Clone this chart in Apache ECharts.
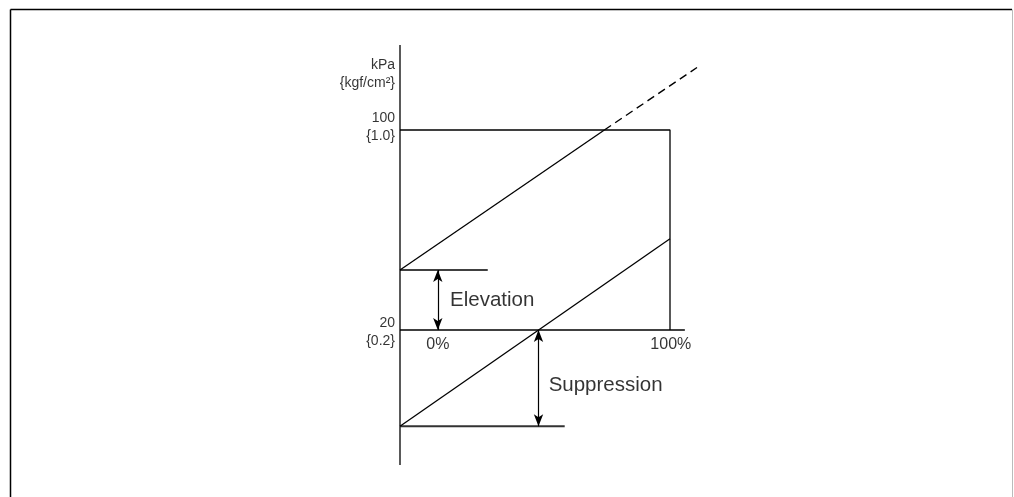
<!DOCTYPE html>
<html>
<head>
<meta charset="utf-8">
<script src="https://cdn.jsdelivr.net/npm/echarts@6/dist/echarts.min.js"></script>
<style>
  html, body { margin: 0; padding: 0; background: #fff; }
  #chart { width: 1014px; height: 497px; }
</style>
</head>
<body>
<div id="chart"></div>
<script>
// axis ranges (x: percent of span, y: kPa)
const xRange = [0, 120];
const yRange = [-34, 134];

// frame lines of the diagram
const axisLine = [[0, -34], [0, 134]];
const line100 = [[0, 100], [100, 100], [100, 20]];
const line20 = [[0, 20], [105.5, 20]];
const elevBase = [[0, 44], [32.5, 44]];
const suppBase = [[0, -18.5], [61, -18.5]];

// calibration lines
const elevSolid = [[0, 44], [75.7, 100]];
const elevDashed = [[75.7, 100], [110, 125]];
const suppLine = [[0, -18.5], [100, 56.5]];

// arrows
const elevArrow = [[14, 44], [14, 20]];
const suppArrow = [[51.3, 20], [51.3, -18.5]];

// tick labels
const yTickLabels = [
  { value: [0, 122.2], text: 'kPa\n{kgf/cm²}' },
  { value: [0, 101.2], text: '100\n{1.0}' },
  { value: [0, 19.2], text: '20\n{0.2}' }
];
const xTickLabels = [
  { value: [14, 14.0], text: '0%' },
  { value: [100.3, 14.0], text: '100%' }
];
const noteLabels = [
  { value: [16.7, 31.8], text: 'Elevation' },
  { value: [53.2, -2.0], text: 'Suppression' }
];

const font = 'Liberation Sans, Arial, sans-serif';
const ink = '#000';

function seg(data, opt) {
  return Object.assign({
    type: 'line', data: data, symbol: 'none', silent: true, clip: false,
    lineStyle: { color: ink, width: 1.3 }, z: 2
  }, opt || {});
}

function arrow(pts) {
  return {
    type: 'line', data: [], symbol: 'none', silent: true,
    markLine: {
      silent: true, symbol: ['arrow', 'arrow'], symbolSize: [7, 12],
      label: { show: false },
      lineStyle: { color: ink, width: 1.2, type: 'solid' },
      data: [[{ coord: pts[0] }, { coord: pts[1] }]]
    }
  };
}

function labels(items, pos, size, lh) {
  return {
    type: 'scatter', symbolSize: 0, silent: true, clip: false,
    data: items.map(d => ({ value: d.value, text: d.text })),
    label: {
      show: true, position: pos, distance: 5, color: ink,
      fontFamily: font, fontSize: size, lineHeight: lh || size + 3,
      align: pos === 'left' ? 'right' : (pos === 'inside' ? 'center' : 'left'),
      formatter: p => p.data.text
    }
  };
}

const chart = echarts.init(document.getElementById('chart'));
chart.setOption({
  animation: false,
  backgroundColor: '#fff',
  grid: { left: 400, top: 45, width: 324, height: 420 },
  xAxis: { type: 'value', min: xRange[0], max: xRange[1], show: false },
  yAxis: { type: 'value', min: yRange[0], max: yRange[1], show: false },
  graphic: [
    { type: 'line', shape: { x1: 10.5, y1: 9.5, x2: 10.5, y2: 497 }, style: { stroke: '#000', lineWidth: 1.5 } },
    { type: 'line', shape: { x1: 10.5, y1: 9.5, x2: 1012, y2: 9.5 }, style: { stroke: '#000', lineWidth: 1.5 } },
    { type: 'line', shape: { x1: 1012.5, y1: 9.5, x2: 1012.5, y2: 497 }, style: { stroke: '#bbb', lineWidth: 1 } }
  ],
  series: [
    seg(axisLine),
    seg(line100),
    seg(line20),
    seg(elevBase),
    seg(suppBase, { lineStyle: { color: '#333', width: 1.8 } }),
    seg(elevSolid),
    seg(elevDashed, { lineStyle: { color: ink, width: 1.4, type: [8, 5] } }),
    seg(suppLine),
    arrow(elevArrow),
    arrow(suppArrow),
    labels(yTickLabels, 'left', 14, 18),
    labels(xTickLabels, 'inside', 16),
    labels(noteLabels, 'right', 20.5)
  ]
});
</script>
</body>
</html>
